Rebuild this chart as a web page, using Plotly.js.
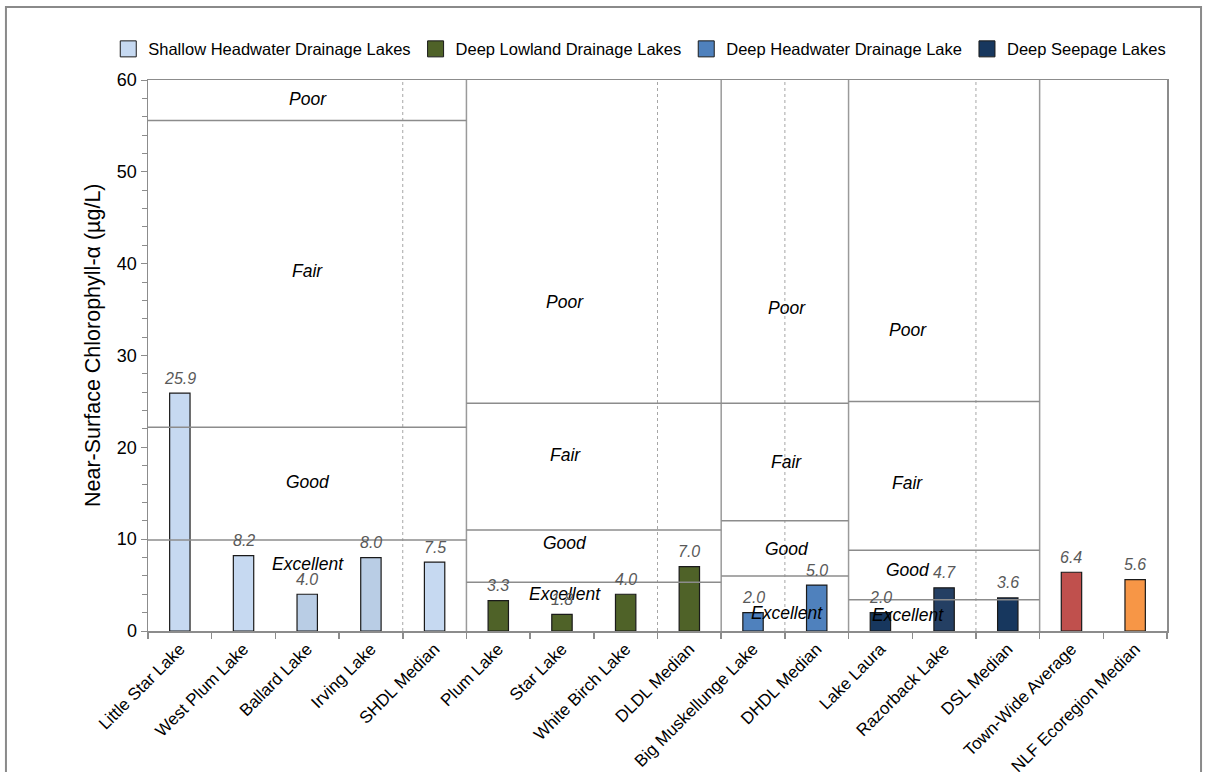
<!DOCTYPE html>
<html>
<head>
<meta charset="utf-8">
<script src="https://cdn.plot.ly/plotly-3.0.1.min.js"></script>
<style>
  html, body { margin: 0; padding: 0; background: #ffffff; }
  #chart { width: 1207px; height: 772px; }
</style>
</head>
<body>
<div id="chart"></div>
<script>
// ---------------- data ----------------
const categories = [
  'Little Star Lake', 'West Plum Lake', 'Ballard Lake', 'Irving Lake', 'SHDL Median',
  'Plum Lake', 'Star Lake', 'White Birch Lake', 'DLDL Median',
  'Big Muskellunge Lake', 'DHDL Median',
  'Lake Laura', 'Razorback Lake', 'DSL Median',
  'Town-Wide Average', 'NLF Ecoregion Median'
];
const values = [25.9, 8.2, 4.0, 8.0, 7.5, 3.3, 1.8, 4.0, 7.0, 2.0, 5.0, 2.0, 4.7, 3.6, 6.4, 5.6];
const valueLabels = ['25.9', '8.2', '4.0', '8.0', '7.5', '3.3', '1.8', '4.0', '7.0', '2.0', '5.0', '2.0', '4.7', '3.6', '6.4', '5.6'];

const groupNames = [
  'Shallow Headwater Drainage Lakes', 'Deep Lowland Drainage Lakes',
  'Deep Headwater Drainage Lake', 'Deep Seepage Lakes', 'Town-Wide Average', 'NLF Ecoregion Median'
];
const groupOf = [0, 0, 0, 0, 0, 1, 1, 1, 1, 2, 2, 3, 3, 3, 4, 5];
const groupInLegend = [true, true, true, true, false, false];
const yTitle = 'Near-Surface Chlorophyll-α (µg/L)';

// Trophic category boundaries (Poor/Fair, Fair/Good, Good/Excellent) per lake-type section
const sectionFirst = [0, 5, 9, 11];
const sectionLast = [4, 8, 10, 13];
const sectionThresholds = [
  [55.6, 22.2, 9.9],
  [24.8, 11.0, 5.3],
  [24.8, 12.0, 6.0],
  [25.0, 8.8, 3.4]
];
const zoneNames = ['Poor', 'Fair', 'Good', 'Excellent'];
const zoneLabelY = [
  [57.9, 39.2, 16.2, 7.3],
  [35.8, 19.2, 9.6, 4.0],
  [35.2, 18.4, 8.9, 2.0],
  [32.8, 16.1, 6.6, 1.7]
];

// ---------------- styles ----------------
const barColors = ['#c6d9f1', '#c6d9f1', '#b9cde5', '#b9cde5', '#c6d9f1',
  '#4f6228', '#4f6228', '#4f6228', '#4f6228',
  '#4f81bd', '#4f81bd',
  '#17375e', '#243f63', '#17375e',
  '#c0504d', '#f79646'];
const legendColors = ['#c6d9f1', '#4f6228', '#4f81bd', '#17375e'];
const zoneLabelX = [2.01, 6.05, 9.53, 11.43];
const FONT = 'Liberation Sans, Arial, sans-serif';
const GRID = '#8c8c8c';

// ---------------- traces ----------------
const traces = groupNames.map(function (name, g) {
  const idx = [];
  groupOf.forEach(function (gg, i) { if (gg === g) idx.push(i); });
  return {
    type: 'bar',
    name: name,
    x: idx.map(function (i) { return categories[i]; }),
    y: idx.map(function (i) { return values[i]; }),
    width: 0.32,
    marker: {
      color: idx.map(function (i) { return barColors[i]; }),
      line: { color: '#1a1a1a', width: 1.2 }
    },
    showlegend: false,
    hoverinfo: 'x+y'
  };
});
groupNames.forEach(function (name, g) {
  if (!groupInLegend[g]) return;
  traces.push({
    type: 'scatter', mode: 'markers', name: name,
    x: [null], y: [null],
    marker: { symbol: 'square', size: 16, color: legendColors[g], line: { color: '#1a1a1a', width: 1 } },
    showlegend: true, hoverinfo: 'skip'
  });
});

// ---------------- shapes ----------------
const shapes = [];
sectionLast.forEach(function (last, s) {
  shapes.push({
    type: 'line', xref: 'x', yref: 'y',
    x0: last + 0.5, x1: last + 0.5, y0: 0, y1: 60,
    line: { color: '#9a9a9a', width: 1.5 }
  });
  shapes.push({
    type: 'line', xref: 'x', yref: 'y',
    x0: last - 0.5, x1: last - 0.5, y0: 0, y1: 60,
    line: { color: '#a6a6a6', width: 1, dash: '3px,3px' }
  });
});
sectionThresholds.forEach(function (th, s) {
  th.forEach(function (v) {
    shapes.push({
      type: 'line', xref: 'x', yref: 'y',
      x0: sectionFirst[s] - 0.5, x1: sectionLast[s] + 0.5, y0: v, y1: v,
      line: { color: GRID, width: 1.5 }
    });
  });
});
shapes.push({
  type: 'rect', xref: 'paper', yref: 'paper',
  x0: -0.1394, x1: 1.0334, y0: -0.4, y1: 1.1325,
  line: { color: '#8a8a8a', width: 2 }, fillcolor: 'rgba(0,0,0,0)'
});

// ---------------- annotations ----------------
const annotations = [];
zoneLabelY.forEach(function (ys, s) {
  ys.forEach(function (y, z) {
    annotations.push({
      x: zoneLabelX[s], y: y, xref: 'x', yref: 'y',
      text: '<i>' + zoneNames[z] + '</i>', showarrow: false,
      font: { family: FONT, size: 17.5, color: '#000000' },
      xanchor: 'center', yanchor: 'middle'
    });
  });
});
values.forEach(function (v, i) {
  annotations.push({
    x: categories[i], y: v, xref: 'x', yref: 'y',
    text: '<i>' + valueLabels[i] + '</i>', showarrow: false,
    font: { family: FONT, size: 16, color: '#595959' },
    xanchor: 'center', yanchor: 'middle', yshift: 15
  });
});
// y-axis title
annotations.push({
  x: -0.054, y: 0.519, xref: 'paper', yref: 'paper',
  text: yTitle, textangle: -90, showarrow: false,
  font: { family: FONT, size: 21.5, color: '#000000' },
  xanchor: 'center', yanchor: 'middle'
});

// ---------------- layout ----------------
const layout = {
  width: 1207, height: 772,
  paper_bgcolor: '#ffffff', plot_bgcolor: '#ffffff',
  margin: { l: 148, r: 40, t: 80, b: 141, autoexpand: false },
  font: { family: FONT, color: '#000000' },
  barmode: 'overlay',
  showlegend: true,
  legend: {
    orientation: 'h', x: -0.039, xanchor: 'left', y: 1.056, yanchor: 'middle',
    font: { family: FONT, size: 16.5, color: '#000000' },
    bgcolor: 'rgba(0,0,0,0)', borderwidth: 0, traceorder: 'normal'
  },
  xaxis: {
    type: 'category', categoryorder: 'array', categoryarray: categories,
    range: [-0.5, 15.5], showgrid: false, zeroline: false,
    showline: true, linecolor: GRID, linewidth: 1.5, mirror: true,
    ticks: 'outside', tickson: 'boundaries', ticklen: 6, tickcolor: GRID, tickwidth: 1.5,
    tickangle: -45, tickfont: { family: FONT, size: 17, color: '#000000' },
    automargin: false
  },
  yaxis: {
    range: [0, 60], dtick: 10, tick0: 0, showgrid: false, zeroline: false,
    showline: true, linecolor: GRID, linewidth: 1.5, mirror: true,
    ticks: 'outside', ticklen: 6, tickcolor: GRID, tickwidth: 1,
    minor: { dtick: 2, ticks: 'outside', ticklen: 5, tickcolor: GRID, showgrid: false },
    tickfont: { family: FONT, size: 18, color: '#000000' },
    automargin: false
  },
  shapes: shapes,
  annotations: annotations
};

Plotly.newPlot('chart', traces, layout, { displayModeBar: false, staticPlot: true });
</script>
</body>
</html>
